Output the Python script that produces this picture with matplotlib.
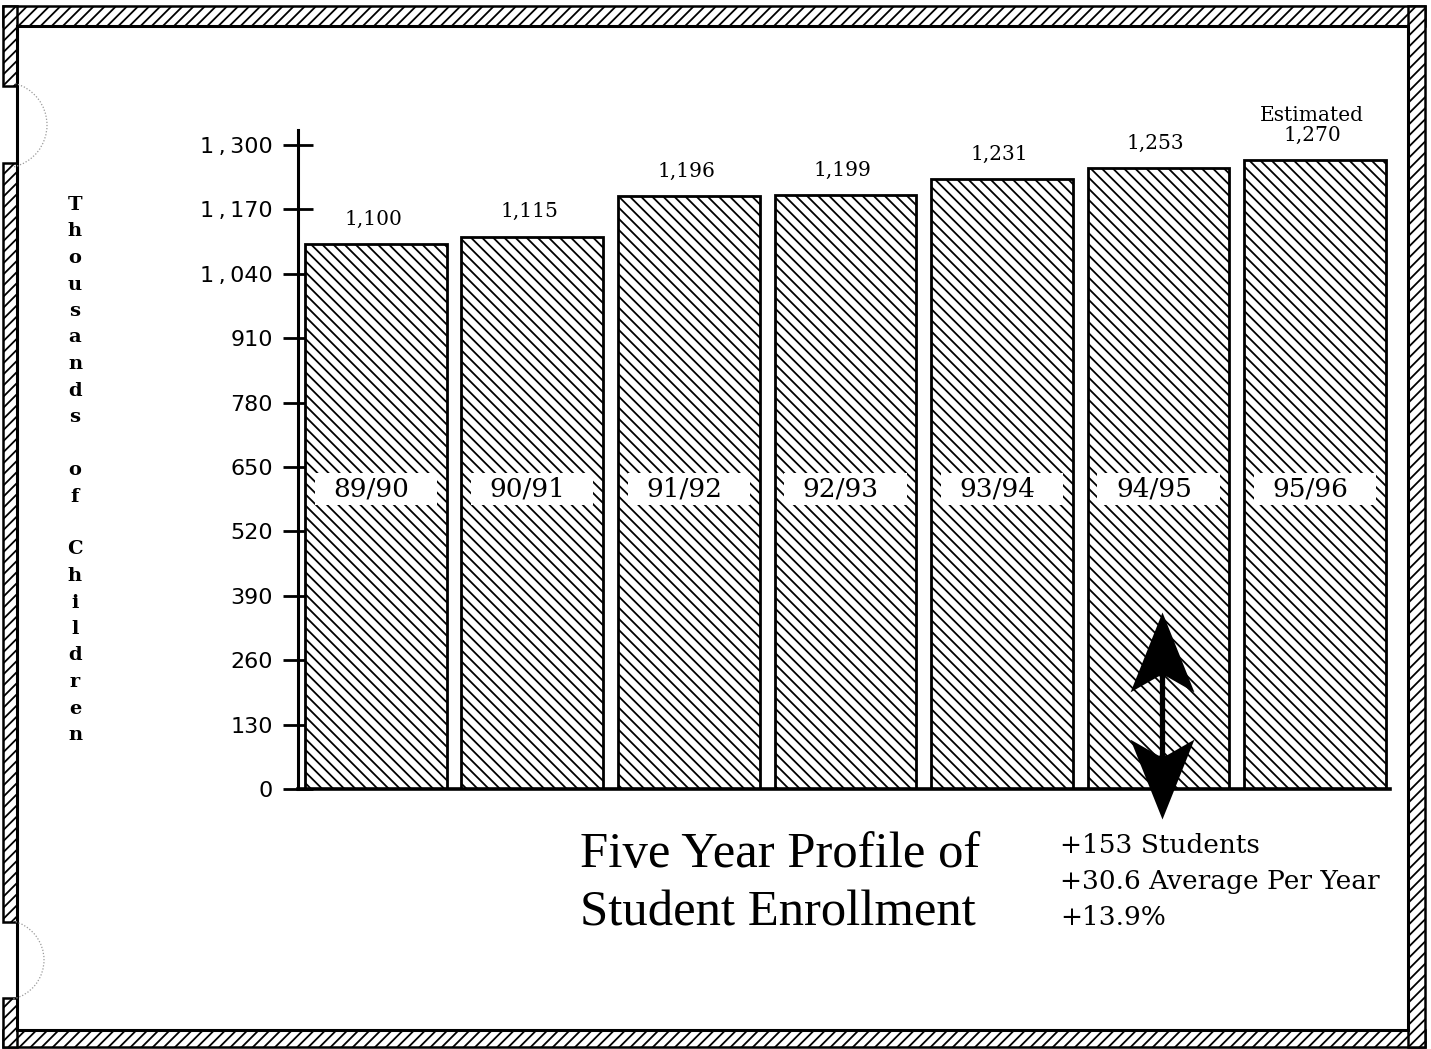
import matplotlib
matplotlib.use("Agg")
import matplotlib.pyplot as plt
from matplotlib.patches import Rectangle, Arc
from matplotlib.path import Path

# Enrollment per school year, thousands of children
years = ["89/90", "90/91", "91/92", "92/93", "93/94", "94/95", "95/96"]
enrollment = [1100, 1115, 1196, 1199, 1231, 1253, 1270]
value_labels = ["1,100", "1,115", "1,196", "1,199", "1,231", "1,253", "Estimated\n1,270"]
y_ticks = [0, 130, 260, 390, 520, 650, 780, 910, 1040, 1170, 1300]
y_tick_labels = ["0", "130", "260", "390", "520", "650", "780", "910",
                 "1\u2009,\u2009040", "1\u2009,\u2009170", "1\u2009,\u2009300"]
summary_lines = ["+153 Students", "+30.6 Average Per Year", "+13.9%"]
title_lines = ["Five Year Profile of", "Student Enrollment"]
y_title = "Thousands of Children"

W, H = 1431, 1049
SERIF = "DejaVu Serif"
plt.rcParams["hatch.linewidth"] = 1.3

fig = plt.figure(figsize=(W / 100, H / 100), dpi=100)
fig.patch.set_facecolor("white")


def fx(px):
    return px / W


def fy(py):
    return 1 - py / H


# ---- hatched page border ----
def strip(x0, y0, x1, y1):
    r = Rectangle((fx(x0), fy(y1)), fx(x1) - fx(x0), fy(y0) - fy(y1),
                  transform=fig.transFigure, facecolor="white", edgecolor="black",
                  hatch="///", linewidth=1.8, zorder=1)
    fig.add_artist(r)


strip(3, 6, 1425, 26)        # top
strip(3, 1030, 1425, 1047)   # bottom
strip(1408, 6, 1425, 1047)   # right
strip(3, 6, 17, 86)          # left, above the upper hole
strip(3, 163, 17, 922)       # left, between holes
strip(3, 998, 17, 1047)      # left, below the lower hole
fig.add_artist(Rectangle((fx(17), fy(1030)), fx(1408) - fx(17), fy(26) - fy(1030),
                         transform=fig.transFigure, facecolor="none",
                         edgecolor="black", linewidth=2.2, zorder=2))

# binder holes
for cy, rad in [(125, 43), (960, 40)]:
    fig.add_artist(Arc((fx(4), fy(cy)), 2 * rad / W, 2 * rad / H, theta1=-80, theta2=80,
                       transform=fig.transFigure, color="#9a9a9a", linewidth=0.9,
                       linestyle=(0, (1, 1.5)), zorder=2))

# ---- bar chart ----
ax = fig.add_axes([fx(298), fy(789), fx(1390) - fx(298), (789 - 130) / H])
x = list(range(len(years)))
ax.bar(x, enrollment, width=0.907, facecolor="white", edgecolor="black",
       hatch="\\\\\\", linewidth=2.0, zorder=2)

# white label strips across the bars
ax.bar(x, 65, bottom=573, width=0.78, color="white", linewidth=0, zorder=3)
for xi, yr in zip(x, years):
    ax.text(xi - 0.03, 605, yr, ha="center", va="center", fontsize=19,
            family=SERIF, zorder=4)

for xi, v, lab in zip(x, enrollment, value_labels):
    ax.annotate(lab, (xi, v), xytext=(-2, 11), textcoords="offset points",
                ha="center", va="bottom", fontsize=14.5, family=SERIF,
                linespacing=1.05)

ax.set_xlim(-0.498, 6.479)
ax.set_ylim(0, 1330)
ax.set_xticks([])
ax.set_yticks(y_ticks)
ax.set_yticklabels(y_tick_labels, family=["DejaVu Sans"], fontsize=16)
ax.tick_params(axis="y", direction="inout", length=22, width=2.0, pad=7)
ax.set_axisbelow(True)
for s in ("top", "right"):
    ax.spines[s].set_visible(False)
ax.spines["left"].set_linewidth(2.2)
ax.spines["bottom"].set_linewidth(2.6)
ax.spines["left"].set_zorder(1)

# double-headed arrow over the 94/95 bar: shaft plus two barbed heads
arrow_x, arrow_lo, arrow_hi = 5.02, -60, 357
ax.plot([arrow_x, arrow_x], [arrow_lo + 60, arrow_hi - 60], color="black",
        linewidth=3.8, clip_on=False, zorder=5, solid_capstyle="butt")
head = [(0, 0), (32, -80), (4, -64), (-4, -64), (-32, -80), (0, 0)]
head_up = Path(head, closed=True)
head_down = Path([(vx, -vy) for vx, vy in head], closed=True)
for tip_y, mk in [(arrow_hi, head_up), (arrow_lo, head_down)]:
    ax.plot([arrow_x], [tip_y], marker=mk, markersize=115, color="black",
            markeredgewidth=0, linestyle="none", clip_on=False, zorder=6)

# ---- vertical axis title, one letter per line ----
base = 210
for i, ch in enumerate(y_title):
    if ch != " ":
        fig.text(fx(75), fy(base + i * 26.5), ch, ha="center", va="baseline",
                 fontsize=14, family="DejaVu Serif", fontweight="bold")

# ---- caption and summary ----
for i, line in enumerate(title_lines):
    fig.text(fx(580), fy(867 + i * 58), line, ha="left", va="baseline",
             fontsize=36.5, family="Liberation Serif")
for i, line in enumerate(summary_lines):
    fig.text(fx(1060), fy(853 + i * 36), line, ha="left", va="baseline",
             fontsize=19, family=SERIF)

fig.savefig("out.png", dpi=100, facecolor="white")
